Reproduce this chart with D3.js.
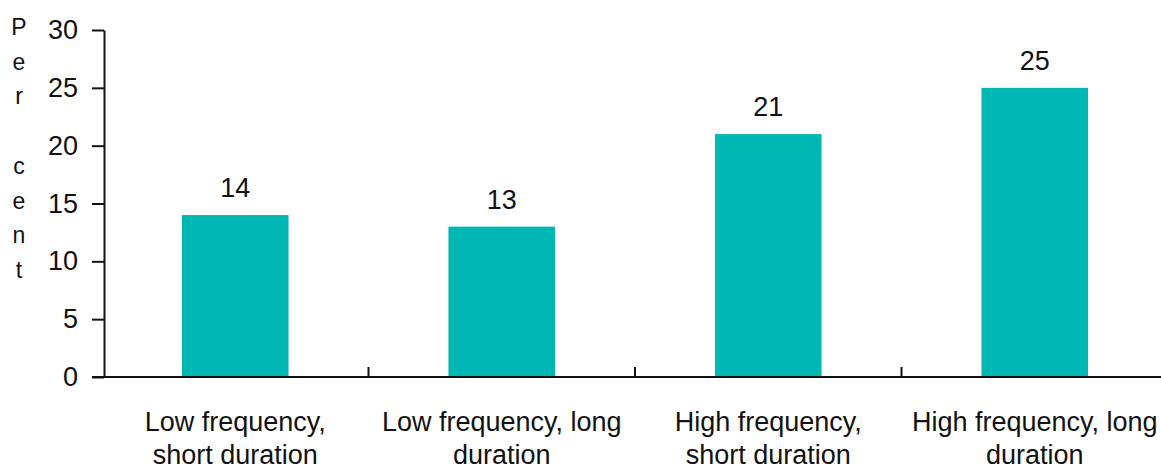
<!DOCTYPE html>
<html>
<head>
<meta charset="utf-8">
<script src="https://cdn.jsdelivr.net/npm/d3@7"></script>
<style>
  html, body { margin: 0; padding: 0; background: #fff; }
  svg { display: block; }
  text { font-family: "Liberation Sans", Arial, sans-serif; fill: #111; }
</style>
</head>
<body>
<svg id="chart" width="1161" height="470"></svg>
<script>
// Share of respondents by frequency / duration group (per cent)
const categories = [
  ["Low frequency,", "short duration"],
  ["Low frequency, long", "duration"],
  ["High frequency,", "short duration"],
  ["High frequency, long", "duration"]
];
const values = [14, 13, 21, 25];
const yTicks = [0, 5, 10, 15, 20, 25, 30];
const yTitle = "Per cent";

(function () {
  const svg = d3.select("#chart");
  const W = 1161;

  const axisX = 104, plotTop = 30, plotBottom = 377;

  const x = d3.scaleBand()
    .domain(d3.range(categories.length))
    .range([102, 1168])
    .paddingInner(0.6)
    .paddingOuter(0.3);

  const y = d3.scaleLinear().domain([0, 30]).range([plotBottom, plotTop]);

  // bars
  svg.append("g").selectAll("rect")
    .data(values)
    .join("rect")
    .attr("x", (d, i) => x(i))
    .attr("width", x.bandwidth())
    .attr("y", d => y(d))
    .attr("height", d => y(0) - y(d))
    .attr("fill", "#00b8b3");

  // value labels
  svg.append("g").selectAll("text")
    .data(values)
    .join("text")
    .attr("x", (d, i) => x(i) + x.bandwidth() / 2)
    .attr("y", d => y(d) - 18)
    .attr("text-anchor", "middle")
    .style("font-size", "27px")
    .text(d => d);

  // y axis
  const yAxis = d3.axisLeft(y)
    .tickValues(yTicks)
    .tickSize(12)
    .tickSizeOuter(0)
    .tickPadding(14);
  const gy = svg.append("g")
    .attr("transform", `translate(${axisX},0)`)
    .call(yAxis);
  gy.selectAll(".domain, .tick line").attr("stroke", "#111").attr("stroke-width", 2);
  gy.selectAll(".tick text").style("font-size", "27px").attr("fill", "#111")
    .style("font-family", "Liberation Sans, Arial, sans-serif");

  // x axis baseline
  svg.append("line")
    .attr("x1", axisX - 12).attr("x2", W)
    .attr("y1", y(0)).attr("y2", y(0))
    .attr("stroke", "#111").attr("stroke-width", 2);

  // category separators (ticks pointing up)
  const gap = (x.step() - x.bandwidth()) / 2;
  svg.append("g").selectAll("line")
    .data(d3.range(1, categories.length))
    .join("line")
    .attr("x1", i => x(i) - gap).attr("x2", i => x(i) - gap)
    .attr("y1", y(0)).attr("y2", y(0) - 10)
    .attr("stroke", "#111").attr("stroke-width", 2);

  // category labels
  const cl = svg.append("g").selectAll("text")
    .data(categories)
    .join("text")
    .attr("text-anchor", "middle")
    .style("font-size", "27px");
  cl.selectAll("tspan")
    .data((d, i) => d.map(s => ({ s, i })))
    .join("tspan")
    .attr("x", d => x(d.i) + x.bandwidth() / 2)
    .attr("y", (d, j) => 431 + j * 33)
    .text(d => d.s);

  // vertical stacked axis title
  svg.append("g").selectAll("text")
    .data(yTitle.split(""))
    .join("text")
    .attr("x", 19)
    .attr("y", (d, i) => 35 + i * 34.7)
    .attr("text-anchor", "middle")
    .style("font-size", "23px")
    .text(d => d);
})();
</script>
</body>
</html>
